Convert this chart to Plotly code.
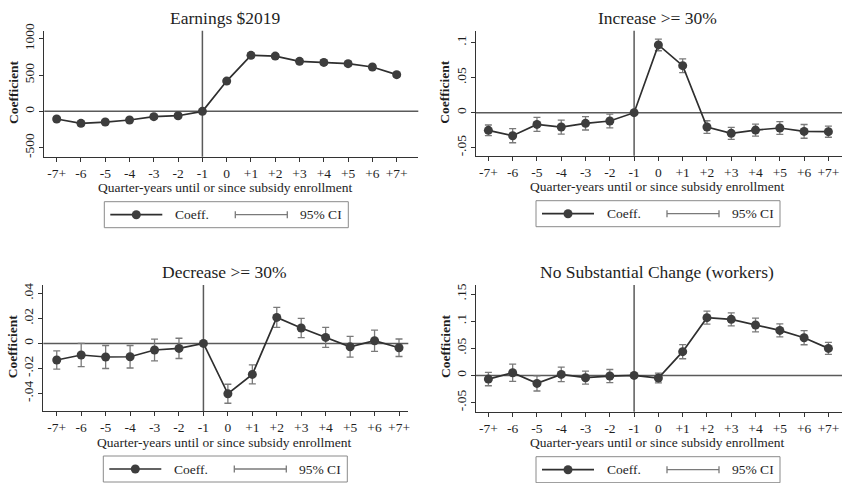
import plotly.graph_objects as go

W, H = 842, 483

# Event-time categories (quarter-years relative to subsidy enrollment)
periods = ["-7+", "-6", "-5", "-4", "-3", "-2", "-1", "0",
           "+1", "+2", "+3", "+4", "+5", "+6", "+7+"]
REF_PERIOD = periods.index("-1")

# Earnings $2019
earn_coef = [-105, -165, -147, -119, -73, -60, 0, 417, 771, 761, 688, 674, 656, 610, 505]
earn_ci = [30, 30, 30, 28, 28, 28, 0, 30, 32, 32, 30, 30, 30, 30, 30]

# Increase >= 30%
inc_coef = [-0.0252, -0.0329, -0.0167, -0.0205, -0.0152, -0.0119, 0, 0.0967,
            0.0671, -0.0205, -0.0295, -0.0248, -0.0219, -0.0267, -0.0271]
inc_ci = [0.0076, 0.0100, 0.0100, 0.0100, 0.0095, 0.0098, 0, 0.0083,
          0.0098, 0.0090, 0.0086, 0.0086, 0.0090, 0.0098, 0.0080]

# Decrease >= 30%
dec_coef = [-0.0133, -0.0093, -0.0109, -0.0107, -0.0053, -0.0040, 0, -0.0403,
            -0.0248, 0.0208, 0.0123, 0.0048, -0.0027, 0.0021, -0.0035]
dec_ci = [0.0073, 0.0093, 0.0092, 0.0090, 0.0087, 0.0081, 0, 0.0076,
          0.0076, 0.0080, 0.0077, 0.0080, 0.0083, 0.0085, 0.0070]

# No Substantial Change (workers)
nsc_coef = [-0.0068, 0.0049, -0.0148, 0.0018, -0.0043, -0.0012, 0, -0.0049,
            0.0437, 0.1064, 0.1033, 0.0929, 0.0830, 0.0695, 0.0498]
nsc_ci = [0.0123, 0.0160, 0.0140, 0.0135, 0.0120, 0.0120, 0, 0.0090,
          0.0130, 0.0120, 0.0120, 0.0126, 0.0120, 0.0130, 0.0110]

titles = ["Earnings $2019", "Increase >= 30%", "Decrease >= 30%",
          "No Substantial Change (workers)"]

ytick_vals = [
    [-500, 0, 500, 1000],
    [-0.05, 0, 0.05, 0.1],
    [-0.04, -0.02, 0, 0.02, 0.04],
    [-0.05, 0, 0.05, 0.1, 0.15],
]
ytick_text = [
    ["-500", "0", "500", "1000"],
    ["-.05", "0", ".05", ".1"],
    ["-.04", "-.02", "0", ".02", ".04"],
    ["-.05", "0", ".05", ".1", ".15"],
]

xtitle = "Quarter-years until or since subsidy enrollment"
ytitle = "Coefficient"

FONT = "Liberation Serif, Times New Roman, DejaVu Serif, serif"
TXT = "#1e1e1e"
LINE = "#2f2f2f"
MARK = "#3d3d3d"
CI = "#7a7a7a"
REF = "#5a5a5a"
FS = 13.5


def px_x(p):
    return p / W


def px_y(p):
    return 1 - p / H


# Plot-area boxes in pixels: left, right, top, bottom, and axis ranges
panels = [
    dict(l=44.3, r=418.3, t=30.7, b=156.7, xr=[-0.51, 14.89], yr=[-624, 1110],
         coef=earn_coef, ci=earn_ci),
    dict(l=476.0, r=842.0, t=30.7, b=155.7, xr=[-0.51, 14.56], yr=[-0.0614, 0.117],
         coef=inc_coef, ci=inc_ci),
    dict(l=43.3, r=408.3, t=285.0, b=411.0, xr=[-0.55, 14.38], yr=[-0.0541, 0.0467],
         coef=dec_coef, ci=dec_ci),
    dict(l=476.0, r=842.0, t=285.0, b=411.7, xr=[-0.51, 14.56], yr=[-0.067, 0.1667],
         coef=nsc_coef, ci=nsc_ci),
]

fig = go.Figure()
shapes = []
annotations = []

for i, p in enumerate(panels):
    n = "" if i == 0 else str(i + 1)
    xa, ya = "x" + n, "y" + n

    fig.add_trace(go.Scatter(
        x=periods, y=p["coef"], xaxis=xa, yaxis=ya,
        mode="lines+markers",
        line=dict(color=LINE, width=1.7),
        marker=dict(symbol="circle", size=9, color=MARK),
        error_y=dict(type="data", array=p["ci"], visible=True,
                     color=CI, thickness=1.3, width=3.5),
        showlegend=False, hoverinfo="skip",
    ))

    common_x = dict(
        domain=[px_x(p["l"]), px_x(p["r"])],
        range=p["xr"], type="category",
        anchor=ya, showgrid=False, zeroline=False,
        showline=True, linecolor="#333", linewidth=1.2,
        ticks="outside", ticklen=4, tickcolor="#333", tickwidth=1,
        tickfont=dict(family=FONT, size=FS, color=TXT),
        ticklabelstandoff=0,
    )
    common_y = dict(
        domain=[px_y(p["b"]), px_y(p["t"])],
        range=p["yr"], anchor=xa, showgrid=False, zeroline=False,
        showline=True, linecolor="#333", linewidth=1.2,
        ticks="outside", ticklen=4, tickcolor="#333", tickwidth=1,
        tickvals=ytick_vals[i], ticktext=ytick_text[i], tickangle=-90,
        tickfont=dict(family=FONT, size=FS, color=TXT),
    )
    fig.update_layout(**{"xaxis" + n: common_x, "yaxis" + n: common_y})

    # zero reference line and enrollment marker at period -1
    shapes.append(dict(type="line", xref=xa + " domain", yref=ya,
                       x0=0, x1=1, y0=0, y1=0,
                       line=dict(color=REF, width=1.5), layer="below"))
    shapes.append(dict(type="line", xref=xa, yref=ya + " domain",
                       x0=REF_PERIOD, x1=REF_PERIOD, y0=0, y1=1,
                       line=dict(color=REF, width=1.5), layer="below"))

    cx = p["l"] + 181
    # panel title
    annotations.append(dict(
        text=titles[i], xref="paper", yref="paper",
        x=px_x(cx), y=px_y(p["t"] - 13),
        xanchor="center", yanchor="middle", showarrow=False,
        font=dict(family=FONT, size=17.5, color=TXT),
    ))
    # x-axis title
    annotations.append(dict(
        text=xtitle, xref="paper", yref="paper",
        x=px_x(cx), y=px_y(p["b"] + 31),
        xanchor="center", yanchor="middle", showarrow=False,
        font=dict(family=FONT, size=FS, color=TXT),
    ))
    # y-axis title
    annotations.append(dict(
        text="<b>" + ytitle + "</b>", xref="paper", yref="paper",
        x=px_x(p["l"] - 31), y=px_y(p["t"] + 62),
        xanchor="center", yanchor="middle", textangle=-90, showarrow=False,
        font=dict(family=FONT, size=FS, color=TXT),
    ))

    # legend box below each panel
    lx0 = p["l"] + 60
    ly0 = p["b"] + 45
    lx1 = lx0 + 244
    ly1 = ly0 + 26
    ym = (ly0 + ly1) / 2
    shapes.append(dict(type="rect", xref="paper", yref="paper",
                       x0=px_x(lx0), x1=px_x(lx1), y0=px_y(ly1), y1=px_y(ly0),
                       line=dict(color="#8a8a8a", width=1), fillcolor="white"))
    shapes.append(dict(type="line", xref="paper", yref="paper",
                       x0=px_x(lx0 + 6), x1=px_x(lx0 + 58), y0=px_y(ym), y1=px_y(ym),
                       line=dict(color=LINE, width=1.7)))
    shapes.append(dict(type="circle", xref="paper", yref="paper",
                       x0=px_x(lx0 + 27.5), x1=px_x(lx0 + 36.5),
                       y0=px_y(ym + 4.5), y1=px_y(ym - 4.5),
                       line=dict(color=MARK, width=0), fillcolor=MARK))
    annotations.append(dict(
        text="Coeff.", xref="paper", yref="paper",
        x=px_x(lx0 + 69), y=px_y(ym), xanchor="left", yanchor="middle",
        showarrow=False, font=dict(family=FONT, size=FS, color=TXT),
    ))
    shapes.append(dict(type="line", xref="paper", yref="paper",
                       x0=px_x(lx0 + 131), x1=px_x(lx0 + 183), y0=px_y(ym), y1=px_y(ym),
                       line=dict(color=CI, width=1.3)))
    for cxp in (lx0 + 131, lx0 + 183):
        shapes.append(dict(type="line", xref="paper", yref="paper",
                           x0=px_x(cxp), x1=px_x(cxp), y0=px_y(ym - 3.5), y1=px_y(ym + 3.5),
                           line=dict(color=CI, width=1.3)))
    annotations.append(dict(
        text="95% CI", xref="paper", yref="paper",
        x=px_x(lx0 + 194), y=px_y(ym), xanchor="left", yanchor="middle",
        showarrow=False, font=dict(family=FONT, size=FS, color=TXT),
    ))

fig.update_layout(
    width=W, height=H,
    margin=dict(l=0, r=0, t=0, b=0, autoexpand=False),
    paper_bgcolor="white", plot_bgcolor="white",
    shapes=shapes, annotations=annotations,
    font=dict(family=FONT, color=TXT),
    showlegend=False,
)

fig.write_html("out.html", config={"displayModeBar": False})
